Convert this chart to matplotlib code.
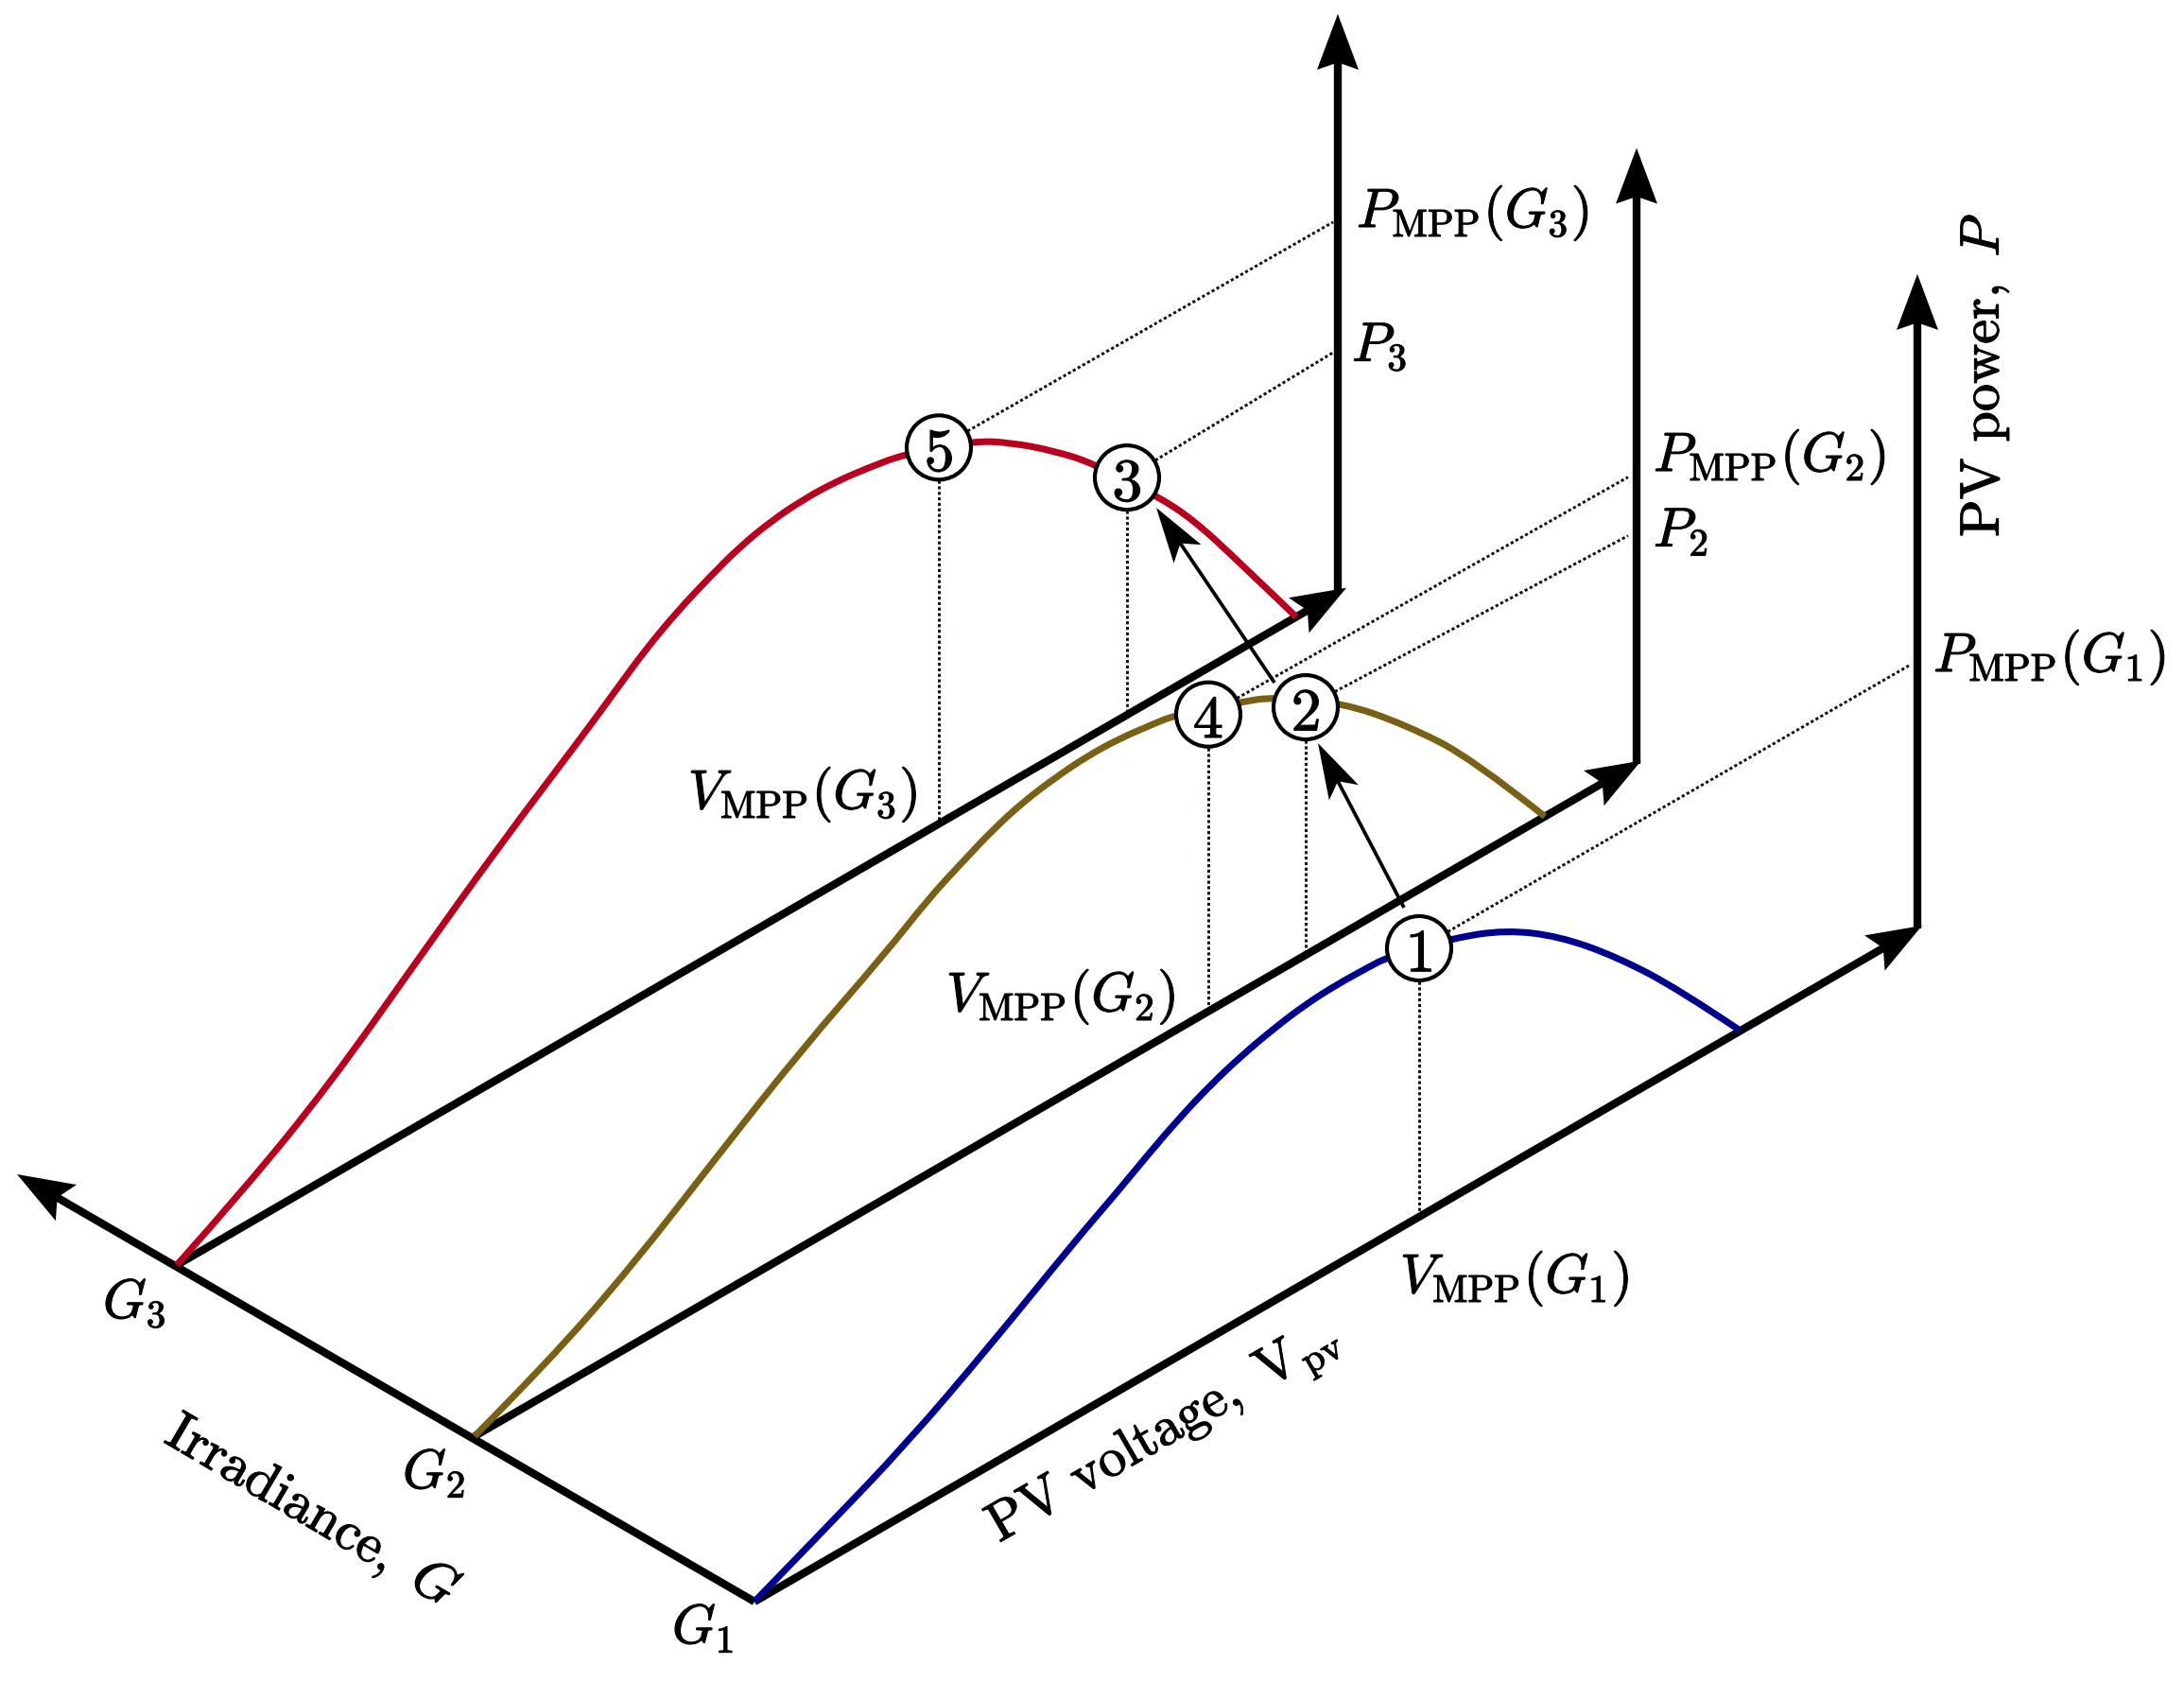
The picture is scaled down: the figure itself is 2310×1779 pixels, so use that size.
import numpy as np
import matplotlib
matplotlib.use("Agg")
import matplotlib.pyplot as plt
import matplotlib.patheffects as pe
from matplotlib.patches import Circle, Polygon, PathPatch
from matplotlib.path import Path

plt.rcParams['mathtext.fontset'] = 'cm'

# floor of the drawing: where each P-V plane starts, in picture units
g_labels = ['G_1', 'G_2', 'G_3']
origin_x = [798, 502, 187]
origin_y = [1694, 1519, 1338]
v_axis_len = [1235, 1234, 1237]
p_axis_len = [689, 648, 607]
p_axis_shift = [5, 5, 9]
g_axis_tip = (18, 1242)

# P-V curves, voltage and power
blue_v = [0, 71, 161, 250, 339, 382, 415, 449, 482, 515, 549, 582, 615, 649, 669, 739, 795, 851, 912, 979, 1042]
blue_p = [0, 32, 74, 127, 185, 210, 231, 251, 267, 279, 288, 294, 296, 295, 294, 274, 250, 211, 154, 80, 1]
brown_v = [0, 77, 167, 256, 345, 434, 481, 515, 548, 581, 615, 648, 681, 715, 740, 811, 844, 917, 984, 1055, 1132]
brown_p = [0, 33, 84, 147, 208, 259, 291, 308, 324, 335, 341, 344, 343, 338, 334, 307, 293, 245, 183, 106, 0]
red_v = [0, 72, 162, 251, 340, 429, 463, 496, 530, 563, 596, 630, 663, 696, 730, 770, 842, 881, 929, 970, 1036, 1075, 1123, 1184]
red_p = [0, 39, 98, 172, 245, 311, 338, 364, 385, 401, 415, 423, 426, 425, 420, 412, 384, 360, 323, 286, 214, 166, 94, 0]
curve_colors = ['#00008f', '#7a6014', '#b8001f']

# numbered operating points: plane, voltage, power, level on the P axis
point_names = ['1', '2', '3', '4', '5']
point_plane = [0, 1, 2, 1, 2]
point_v = [703, 879, 1005, 776, 806]
point_p = [284, 262, 251, 314, 398]
point_level = [283, 246, 257, 308, 395]

heavy = [pe.withStroke(linewidth=0.8, foreground='black')]


def project(plane, v, p):
    # oblique view: voltage runs up to the right, power straight up
    v = np.asarray(v, dtype=float)
    p = np.asarray(p, dtype=float)
    return origin_x[plane] + v, origin_y[plane] - 0.579 * v - p


def smooth_path(x, y):
    # quadratic segments between midpoints, the read points act as control points
    pts = np.column_stack([x, y])
    verts = [pts[0]]
    codes = [Path.MOVETO]
    for i in range(1, len(pts) - 1):
        end = pts[i + 1] if i == len(pts) - 2 else (pts[i] + pts[i + 1]) / 2
        verts += [pts[i], end]
        codes += [Path.CURVE3, Path.CURVE3]
    return Path(verts, codes)


def arrow(ax, start, tip, lw, head_len, head_w, notch):
    start = np.array(start, dtype=float)
    tip = np.array(tip, dtype=float)
    d = (tip - start) / np.hypot(*(tip - start))
    n = np.array([-d[1], d[0]])
    back = tip - d * head_len
    neck = tip - d * head_len * notch
    ax.plot([start[0], neck[0]], [start[1], neck[1]], color='black', lw=lw,
            solid_capstyle='butt', zorder=4)
    ax.add_patch(Polygon([tip, back + n * head_w / 2, neck, back - n * head_w / 2],
                         closed=True, fc='black', ec='none', zorder=4))


fig = plt.figure(figsize=(23.1, 17.79), dpi=100)
ax = fig.add_axes([0, 0, 1, 1])
ax.set_xlim(0, 2310)
ax.set_ylim(1779, 0)
ax.axis('off')

# axes
arrow(ax, (origin_x[0], origin_y[0]), g_axis_tip, 6.0, 60, 44, 0.82)
for i in range(3):
    x0, y0 = project(i, 0, 0)
    x1, y1 = project(i, v_axis_len[i], 0)
    arrow(ax, (x0, y0), (x1, y1), 6.0, 58, 43, 0.82)
    px = x1 - p_axis_shift[i]
    arrow(ax, (px, y1 + 3), (px, y1 - p_axis_len[i]), 6.0, 59, 44, 0.87)

# curves
for i, (v, p) in enumerate([(blue_v, blue_p), (brown_v, brown_p), (red_v, red_p)]):
    x, y = project(i, v, p)
    ax.add_patch(PathPatch(smooth_path(x, y), fc='none', ec=curve_colors[i], lw=5.1,
                           capstyle='butt', zorder=5))

# dotted guide lines and the circled points
for name, pl, v, p, lev in zip(point_names, point_plane, point_v, point_p, point_level):
    x, y = project(pl, v, p)
    x_axis, y_axis = project(pl, v, 0)
    ax.plot([x, x_axis], [y, y_axis], color='#1a0a0a', lw=2.1, ls=(0, (1.1, 0.9)), zorder=3)
    xe, ye = project(pl, v_axis_len[pl] - 14, lev)
    ax.plot([x, xe], [y, ye], color='#1a0a0a', lw=2.1, ls=(0, (1.1, 0.9)), zorder=3)
    ax.add_patch(Circle((x, y), 34, fc='white', ec='black', lw=3.0, zorder=6))
    ax.text(x, y, '$\\mathrm{' + name + '}$', fontsize=46, ha='center', va='center_baseline',
            zorder=7, path_effects=heavy)

# moves between the operating points
arrow(ax, (1485, 960), (1394, 786), 2.7, 59, 35, 0.77)
arrow(ax, (1348, 722), (1223, 537), 2.7, 59, 35, 0.77)

# labels
fs = 42
labels = [
    (r'$P_{\mathrm{MPP}}(G_3)$', 1435, 240),
    (r'$P_3$', 1430, 382),
    (r'$P_{\mathrm{MPP}}(G_2)$', 1749, 498),
    (r'$P_2$', 1749, 578),
    (r'$P_{\mathrm{MPP}}(G_1)$', 2045, 710),
    (r'$V_{\mathrm{MPP}}(G_3)$', 728, 855),
    (r'$V_{\mathrm{MPP}}(G_2)$', 1001, 1069),
    (r'$V_{\mathrm{MPP}}(G_1)$', 1481, 1367),
    ('$' + g_labels[2] + '$', 109, 1394),
    ('$' + g_labels[1] + '$', 426, 1574),
    ('$' + g_labels[0] + '$', 711, 1738),
]
for s, x, y in labels:
    ax.text(x, y, s, fontsize=fs, ha='left', va='baseline', zorder=7, path_effects=heavy)

ax.text(172, 1525, r'$\mathrm{Irradiance,}\ G$', fontsize=fs, rotation=-30.5,
        rotation_mode='anchor', ha='left', va='baseline', path_effects=heavy)
ax.text(1057, 1632, r'$\mathrm{PV\ voltage,\ V_{pv}}$', fontsize=fs, rotation=30,
        rotation_mode='anchor', ha='left', va='baseline', path_effects=heavy)
ax.text(2114, 568, r'$\mathrm{PV\ power,}\ P$', fontsize=fs, rotation=90,
        rotation_mode='anchor', ha='left', va='baseline', path_effects=heavy)

fig.savefig('out.png', dpi=100, facecolor='white')
